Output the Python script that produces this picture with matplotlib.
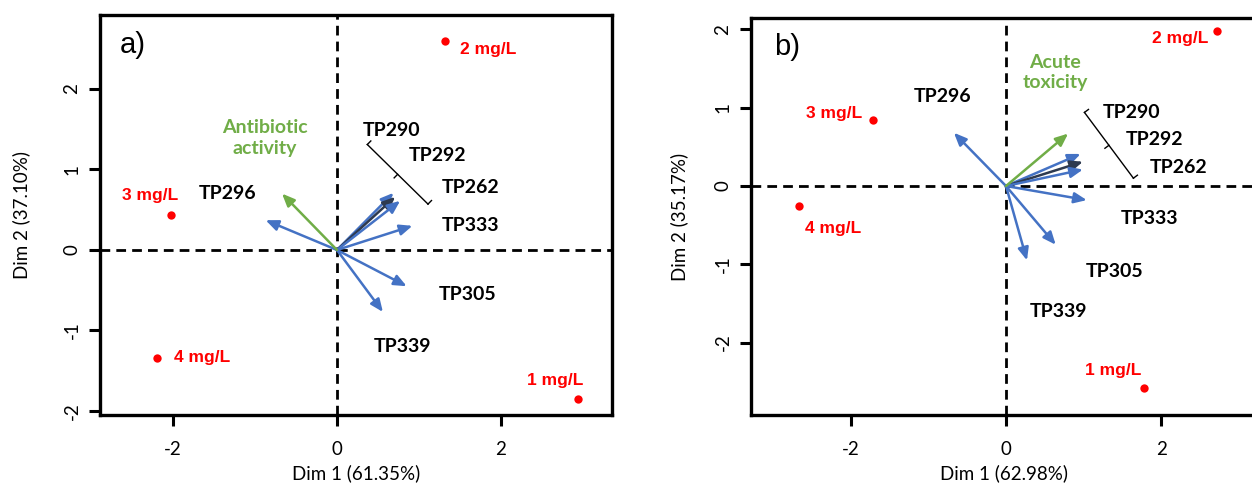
import numpy as np
import matplotlib
matplotlib.use("Agg")
import matplotlib.pyplot as plt

plt.rcParams["axes.unicode_minus"] = False

# ---- panel a) : antibiotic activity ----
a_conc = ["1 mg/L", "2 mg/L", "3 mg/L", "4 mg/L"]
a_conc_x = [2.94, 1.32, -2.02, -2.20]
a_conc_y = [-1.85, 2.60, 0.44, -1.34]

a_var = ["TP290", "TP292", "TP262", "TP333", "TP305", "TP339", "TP296"]
a_var_x = [0.69, 0.71, 0.77, 0.92, 0.85, 0.56, -0.87]
a_var_y = [0.71, 0.66, 0.61, 0.30, -0.45, -0.77, 0.37]
a_sup = "Antibiotic\nactivity"
a_sup_xy = (-0.67, 0.70)

# ---- panel b) : acute toxicity ----
b_conc = ["1 mg/L", "2 mg/L", "3 mg/L", "4 mg/L"]
b_conc_x = [1.77, 2.72, -1.71, -2.66]
b_conc_y = [-2.58, 1.98, 0.84, -0.26]

b_var = ["TP290", "TP292", "TP262", "TP333", "TP305", "TP339", "TP296"]
b_var_x = [0.96, 0.99, 0.99, 1.04, 0.64, 0.27, -0.67]
b_var_y = [0.41, 0.31, 0.21, -0.18, -0.75, -0.95, 0.68]
b_sup = "Acute\ntoxicity"
b_sup_xy = (0.80, 0.67)

a_xlabel, a_ylabel = "Dim 1 (61.35%)", "Dim 2 (37.10%)"
b_xlabel, b_ylabel = "Dim 1 (62.98%)", "Dim 2 (35.17%)"
ticks = [-2, -1, 0, 1, 2]

# label placement (data coordinates)
a_conc_lab = [(2.66, -1.62), (1.84, 2.49), (-2.28, 0.68), (-1.65, -1.34)]
a_var_lab = [(0.67, 1.48), (1.22, 1.17), (1.63, 0.77), (1.63, 0.31),
             (1.59, -0.55), (0.80, -1.20), (-1.33, 0.70)]
a_sup_lab = (-0.88, 1.39)
a_bracket = ((0.37, 1.31), (1.11, 0.57))

b_conc_lab = [(1.38, -2.36), (2.24, 1.88), (-2.21, 0.92), (-2.23, -0.54)]
b_var_lab = [(1.62, 0.94), (1.91, 0.60), (2.22, 0.24), (1.85, -0.41),
             (1.40, -1.09), (0.68, -1.60), (-0.82, 1.14)]
b_sup_lab = (0.63, 1.45)
b_bracket = ((1.01, 0.94), (1.64, 0.10))

BLUE = "#4472C4"
DARK = "#2E3A4F"
GREEN = "#70AD47"
RED = "#FF0000"

W, H = 1252, 486
fig = plt.figure(figsize=(W / 100, H / 100), dpi=100)

ARROW = "-|>,head_length=0.75,head_width=0.32"


def px_axes(l, r, t, b):
    return fig.add_axes([l / W, (H - b) / H, (r - l) / W, (b - t) / H])


def bracket(ax, p0, p1, tick_px=5):
    (x0, y0), (x1, y1) = p0, p1
    ax.plot([x0, x1], [y0, y1], color="black", lw=1.0, zorder=3)
    d0 = ax.transData.transform((x0, y0))
    d1 = ax.transData.transform((x1, y1))
    v = (d1 - d0) / np.hypot(*(d1 - d0))
    n = np.array([v[1], -v[0]])
    if n[0] < 0:
        n = -n
    inv = ax.transData.inverted()
    for p, s in ((d0, 1), (d1, 1), ((d0 + d1) / 2, -1)):
        q = p + s * n * tick_px
        a, b = inv.transform(p), inv.transform(q)
        ax.plot([a[0], b[0]], [a[1], b[1]], color="black", lw=1.0, zorder=3)


def arrow(ax, xy, col):
    ax.annotate("", xy=xy, xytext=(0, 0),
                arrowprops=dict(arrowstyle=ARROW, color=col, lw=1.8,
                                shrinkA=0, shrinkB=0, mutation_scale=10),
                zorder=4)


def panel(ax, xlim, ylim, tag, tag_xy, conc, cx, cy, clab, var, vx, vy, vlab,
          sup, sxy, slab, brk, xlabel, ylabel, ylabel_x):
    ax.set_xlim(*xlim)
    ax.set_ylim(*ylim)
    ax.axhline(0, color="black", lw=2, dashes=(3.5, 2.2), zorder=1)
    ax.axvline(0, color="black", lw=2, dashes=(3.5, 2.2), zorder=1)

    for i, (x, y) in enumerate(zip(vx, vy)):
        arrow(ax, (x, y), DARK if i == 1 else BLUE)
    arrow(ax, sxy, GREEN)

    ax.plot(cx, cy, "o", color=RED, ms=6, mec="none", zorder=5)
    for name, (x, y) in zip(conc, clab):
        ax.text(x, y, name, color=RED, fontsize=12.5, fontweight="bold",
                family="Liberation Sans", ha="center", va="center")
    for name, (x, y) in zip(var, vlab):
        ax.text(x, y, name, color="black", fontsize=14, fontweight="bold",
                family="Lato", ha="center", va="center")
    ax.text(slab[0], slab[1], sup, color=GREEN, fontsize=14, fontweight="bold",
            family="Lato", ha="center", va="center", linespacing=1.25)
    ax.text(tag_xy[0], tag_xy[1], tag, fontsize=21, family="Liberation Sans",
            ha="center", va="center")
    bracket(ax, *brk)

    ax.set_xticks([-2, 0, 2])
    ax.set_yticks(ticks)
    ax.tick_params(direction="out", length=8, width=2.2, labelsize=13.5)
    ax.tick_params(axis="x", pad=11)
    ax.tick_params(axis="y", pad=6)
    for lab in ax.get_xticklabels() + ax.get_yticklabels():
        lab.set_family("Lato")
    for lab in ax.get_yticklabels():
        lab.set_rotation(90)
        lab.set_va("center")
    for s in ax.spines.values():
        s.set_linewidth(2.4)
    ax.set_xlabel(xlabel, fontsize=13.5, family="Lato", labelpad=4)
    ax.set_ylabel(ylabel, fontsize=13.5, family="Lato")
    ax.yaxis.set_label_coords(ylabel_x, 0.5)


ax1 = px_axes(100, 612, 15, 415)
ax2 = px_axes(751, 1256, 18, 415)

panel(ax1, (-2.89, 3.354), (-2.050, 2.919), "a)", (-2.49, 2.55),
      a_conc, a_conc_x, a_conc_y, a_conc_lab, a_var, a_var_x, a_var_y, a_var_lab,
      a_sup, a_sup_xy, a_sup_lab, a_bracket, a_xlabel, a_ylabel, -0.137)
panel(ax2, (-3.282, 3.218), (-2.925, 2.146), "b)", (-2.82, 1.77),
      b_conc, b_conc_x, b_conc_y, b_conc_lab, b_var, b_var_x, b_var_y, b_var_lab,
      b_sup, b_sup_xy, b_sup_lab, b_bracket, b_xlabel, b_ylabel, -0.125)

fig.savefig("out.png", dpi=100)
